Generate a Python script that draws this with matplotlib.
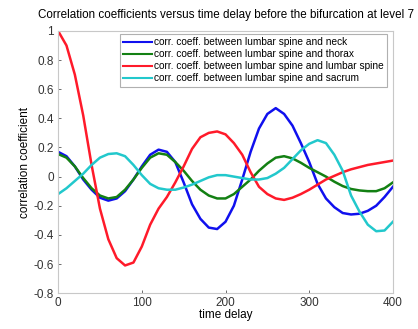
import numpy as np
import matplotlib
matplotlib.use("Agg")
import matplotlib.pyplot as plt

plt.rcParams['font.family'] = ['Liberation Sans', 'DejaVu Sans']

# time delay grid (every 10 units)
delay = np.arange(0, 401, 10)

neck = [0.17, 0.14, 0.07, -0.02, -0.09, -0.145, -0.165, -0.15, -0.10, -0.02,
        0.07, 0.15, 0.185, 0.17, 0.10, -0.04, -0.19, -0.29, -0.35, -0.36,
        -0.31, -0.20, -0.02, 0.17, 0.33, 0.43, 0.47, 0.43, 0.35, 0.23,
        0.10, -0.05, -0.15, -0.21, -0.25, -0.26, -0.255, -0.235, -0.20, -0.14,
        -0.07]

thorax = [0.155, 0.13, 0.07, -0.01, -0.08, -0.13, -0.15, -0.14, -0.09, -0.02,
          0.06, 0.13, 0.16, 0.15, 0.10, 0.04, -0.03, -0.09, -0.13, -0.15,
          -0.15, -0.12, -0.07, -0.02, 0.04, 0.09, 0.13, 0.14, 0.125, 0.095,
          0.06, 0.03, 0.0, -0.035, -0.065, -0.085, -0.095, -0.10, -0.10, -0.08,
          -0.04]

lumbar = [1.0, 0.9, 0.7, 0.42, 0.08, -0.22, -0.43, -0.56, -0.61, -0.59,
          -0.48, -0.33, -0.22, -0.14, -0.04, 0.07, 0.19, 0.27, 0.30, 0.31,
          0.29, 0.23, 0.15, 0.03, -0.07, -0.12, -0.15, -0.16, -0.145, -0.12,
          -0.09, -0.055, -0.02, 0.005, 0.03, 0.05, 0.065, 0.08, 0.09, 0.10,
          0.11]

sacrum = [-0.12, -0.08, -0.03, 0.02, 0.08, 0.13, 0.155, 0.16, 0.14, 0.08,
          0.01, -0.05, -0.08, -0.09, -0.09, -0.075, -0.055, -0.03, -0.005, 0.01,
          0.01, 0.0, -0.01, -0.02, -0.02, -0.01, 0.02, 0.06, 0.12, 0.18,
          0.225, 0.25, 0.23, 0.15, 0.04, -0.13, -0.24, -0.33, -0.375, -0.37,
          -0.31]

labels = ['corr. coeff. between lumbar spine and neck',
          'corr. coeff. between lumbar spine and thorax',
          'corr. coeff. between lumbar spine and lumbar spine',
          'corr. coeff. between lumbar spine and sacrum']
colors = ['#1010ee', '#138013', '#ff1a2a', '#22c8cc']

fig = plt.figure(figsize=(4.18, 3.29), dpi=100)
ax = fig.add_axes([0.139, 0.109, 0.801, 0.797])

for series, lab, col in zip([neck, thorax, lumbar, sacrum], labels, colors):
    ax.plot(delay, series, color=col, linewidth=1.8, label=lab,
            solid_joinstyle='round')

ax.set_xlim(0, 400)
ax.set_ylim(-0.8, 1)
ax.set_xticks([0, 100, 200, 300, 400])
ax.set_yticks(np.arange(-0.8, 1.01, 0.2))
ax.set_yticklabels(['-0.8', '-0.6', '-0.4', '-0.2', '0', '0.2', '0.4', '0.6', '0.8', '1'])
ax.tick_params(direction='in', length=2.5, labelsize=8.5, colors='#333333',
               width=0.5, pad=3)
for sp in ax.spines.values():
    sp.set_color('#c8c8c8')
    sp.set_linewidth(0.8)

ax.set_xlabel('time delay', fontsize=8.5, labelpad=0)
ax.set_ylabel('correlation coefficient', fontsize=8.5, labelpad=2)
ax.set_title('Correlation coefficients versus time delay before the bifurcation at level 7',
             fontsize=8.4, pad=9)

leg = ax.legend(loc='upper right', bbox_to_anchor=(0.982, 0.99), borderaxespad=0,
                fontsize=7.3, handlelength=2.8, handletextpad=0.2,
                labelspacing=0.2, borderpad=0.35, fancybox=False, framealpha=1)
leg.get_frame().set_edgecolor('#b0b0b0')
leg.get_frame().set_linewidth(0.8)
for line in leg.get_lines():
    line.set_linewidth(1.5)

fig.savefig('out.png', dpi=100)
